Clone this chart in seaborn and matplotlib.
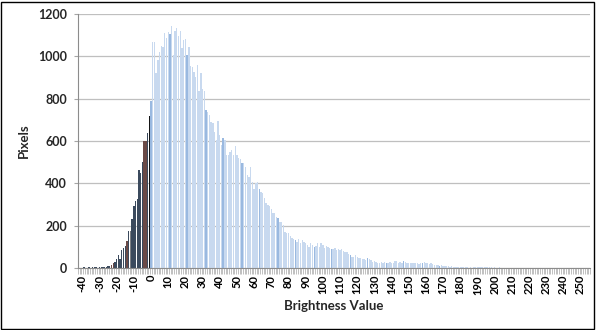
import numpy as np
import pandas as pd
import matplotlib
matplotlib.use("Agg")
import matplotlib.pyplot as plt
import seaborn as sns
from matplotlib.patches import Rectangle

# Histogram of brightness values (pixel counts per brightness level)
brightness_below_zero = list(range(-42, 0))
pixels_below_zero = [
    2, 1, 2, 3, 1, 2, 3, 2, 3, 4, 3, 2, 4, 5, 3, 5, 6, 8, 11, 15,
    22, 27, 43, 60, 43, 85, 95, 105, 129, 176, 173, 232, 295, 315, 326,
    463, 447, 502, 602, 602, 638, 716,
]

brightness_from_zero = list(range(0, 256))
pixels_from_zero = [
    790,
    1069, 1069, 920, 983, 1019, 1050, 1046, 1109, 1088, 1113, 1106,
    1143, 1006, 1119, 1136, 1094, 1122, 1038, 1077, 1082, 1006, 1046,
    956, 951, 924, 904, 959, 836, 920, 845, 836, 746, 735, 723,
    692, 683, 644, 605, 696, 628, 581, 613, 605, 534, 534,
    550, 557, 534, 576, 534, 518, 513, 494, 498, 479, 440, 428,
    476, 408, 372, 400, 408, 372, 361, 356, 329, 305, 298, 293,
    280, 262, 258, 243, 235, 215, 219, 203, 172, 167, 164, 151,
    140, 135, 132, 124, 135, 120, 132, 124, 116, 108, 101, 116,
    108, 98, 104, 116, 101, 120, 108, 93, 104, 98, 93, 88,
    88, 93, 85, 88, 85, 88, 82, 77, 77, 66, 61, 53,
    50, 61, 50, 46, 46, 44,
    41, 38, 45, 41, 38, 30, 35, 30, 25, 22, 30, 25, 28, 22, 25, 30,
    25, 22, 31, 35, 22, 30, 25, 31, 28, 25, 22, 25, 22, 25, 25, 22,
    19, 25, 22, 27, 25, 22, 19, 22, 17, 16, 13, 14, 11, 13, 9, 11,
    8, 9, 6, 8, 6, 6, 5, 5, 3, 4, 3, 3,
    3, 2, 3, 2, 4, 3, 4, 5, 4, 3, 5, 4, 3, 4, 3, 2,
    3, 2, 2, 3, 2, 1, 2, 2, 1, 2, 1, 2, 1, 1, 2, 1,
    1, 2, 1, 1, 1, 2, 1, 1, 1, 1, 2, 1, 1, 1, 1, 1,
    1, 1, 0, 1, 1, 1, 0, 1, 1, 1, 0, 1, 1, 0, 1, 1,
    0, 1, 1, 0, 1, 0, 1, 1,
]

x_tick_values = list(range(-40, 251, 10))
y_tick_values = [0, 200, 400, 600, 800, 1000, 1200]

# Bar tones
brown_bins = [-23, -22, -14, -4, -3]
grey_bins = [-12]
black_bins = [-1]
accent_bins = [0, 11, 21, 32, 42, 53, 63, 74, 84, 95, 105, 116, 126, 137, 147, 158, 168]
palette = {
    "dark": "#3b4a5d",
    "brown": "#6b4a47",
    "grey": "#7c7f84",
    "black": "#151515",
    "light": "#c8d9ef",
    "accent": "#9ab9e0",
}


def tone(v):
    if v in black_bins:
        return "black"
    if v in brown_bins:
        return "brown"
    if v in grey_bins:
        return "grey"
    if v < 0:
        return "dark"
    if v in accent_bins:
        return "accent"
    return "light"


df = pd.DataFrame({
    "Brightness Value": brightness_below_zero + brightness_from_zero,
    "Pixels": pixels_below_zero + pixels_from_zero,
})
df["tone"] = df["Brightness Value"].map(tone)

sns.set_theme(style="white")
plt.rcParams["font.family"] = ["Lato", "DejaVu Sans"]

W, H = 597, 330
fig = plt.figure(figsize=(W / 100, H / 100), dpi=100)
ax = fig.add_axes([78 / W, 1 - 268 / H, (590 - 78) / W, (268 - 14) / H])

sns.barplot(
    data=df, x="Brightness Value", y="Pixels", hue="tone", palette=palette,
    native_scale=True, dodge=False, width=0.8, linewidth=0, saturation=1,
    errorbar=None, legend=False, ax=ax,
)

ax.set_xlim(-42.5, 255.5)
ax.set_ylim(0, 1200)

ax.set_yticks(y_tick_values)
ax.set_yticklabels([str(v) for v in y_tick_values], fontsize=9, fontweight="bold")
ax.yaxis.grid(True, color="#bfbfbf", linewidth=0.9)
ax.xaxis.grid(False)
ax.set_axisbelow(True)

ax.set_xticks(x_tick_values)
ax.set_xticklabels([str(v) for v in x_tick_values], rotation=90,
                   fontsize=8, fontweight="bold")
ax.set_xticks(np.arange(-42.5, 256, 1.0), minor=True)
ax.tick_params(axis="x", which="major", length=0, pad=5, colors="black")
ax.tick_params(axis="x", which="minor", length=4, width=0.5, color="#a6a6a6",
               direction="out", bottom=True)
ax.tick_params(axis="y", which="major", length=3, width=0.8, color="#a6a6a6",
               direction="out", left=True, pad=5)

for side in ("top", "right"):
    ax.spines[side].set_visible(False)
for side in ("left", "bottom"):
    ax.spines[side].set_color("#8c8c8c")
    ax.spines[side].set_linewidth(0.8)

ax.set_xlabel("Brightness Value", fontsize=9.5, fontweight="bold", labelpad=4)
ax.set_ylabel("Pixels", fontsize=9.5, fontweight="bold", labelpad=6)

fig.patches.append(Rectangle((0.002, 0.004), 0.993, 0.99, transform=fig.transFigure,
                             fill=False, edgecolor="black", linewidth=1))

fig.savefig("out.png", dpi=100)
